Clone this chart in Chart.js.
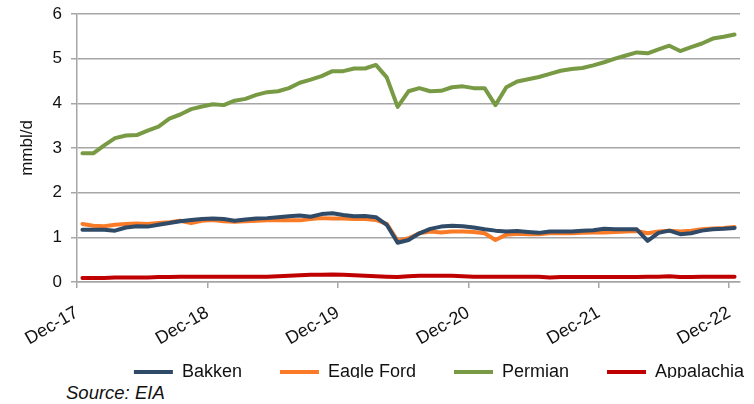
<!DOCTYPE html>
<html>
<head>
<meta charset="utf-8">
<script src="https://cdn.jsdelivr.net/npm/chart.js@4.4.1/dist/chart.umd.min.js"></script>
<style>
  html, body { margin: 0; padding: 0; background: #fff; }
  #wrap { position: relative; width: 754px; height: 404px; overflow: hidden; }
  #clip { position: absolute; left: 0; top: 0; width: 754px; height: 378px; overflow: hidden; }
  #source { position: absolute; left: 66px; top: 382px; font: italic 18.5px "Liberation Sans", Arial, sans-serif; color: #111; }
</style>
</head>
<body>
<div id="wrap">
  <div id="clip"><canvas id="chart" width="754" height="414"></canvas></div>
  <div id="source">Source: EIA</div>
</div>
<script>
// x tick labels, one every 12 months (Dec-17 .. Dec-22)
const tickLabels = ["Dec-17", "Dec-18", "Dec-19", "Dec-20", "Dec-21", "Dec-22"];

// monthly output, mmbl/d, Dec-17 to Dec-22 (61 months)
const bakken = [1.17, 1.17, 1.17, 1.15, 1.22, 1.25, 1.24, 1.28, 1.32, 1.36, 1.39, 1.41, 1.42,
  1.41, 1.37, 1.40, 1.42, 1.43, 1.45, 1.47, 1.49, 1.46, 1.52, 1.54, 1.50, 1.47, 1.48, 1.45,
  1.28, 0.88, 0.94, 1.09, 1.19, 1.24, 1.26, 1.25, 1.22, 1.18, 1.15, 1.13, 1.14, 1.12, 1.10,
  1.13, 1.13, 1.13, 1.15, 1.16, 1.19, 1.18, 1.18, 1.18, 0.92, 1.10, 1.15, 1.07, 1.09, 1.15,
  1.18, 1.19, 1.21];
const eagleFord = [1.30, 1.26, 1.25, 1.28, 1.30, 1.31, 1.30, 1.32, 1.34, 1.37, 1.32, 1.37, 1.39,
  1.36, 1.35, 1.36, 1.37, 1.38, 1.39, 1.38, 1.38, 1.41, 1.43, 1.42, 1.42, 1.41, 1.41, 1.39,
  1.30, 0.92, 0.98, 1.09, 1.13, 1.11, 1.13, 1.13, 1.12, 1.09, 0.94, 1.06, 1.08, 1.07, 1.07,
  1.09, 1.09, 1.09, 1.10, 1.11, 1.11, 1.12, 1.13, 1.14, 1.09, 1.13, 1.15, 1.13, 1.15, 1.18,
  1.20, 1.21, 1.23];
const permian = [2.88, 2.88, 3.06, 3.22, 3.28, 3.29, 3.39, 3.48, 3.66, 3.75, 3.87, 3.93, 3.98,
  3.96, 4.06, 4.10, 4.19, 4.25, 4.27, 4.34, 4.46, 4.53, 4.61, 4.72, 4.72, 4.78, 4.78, 4.86,
  4.58, 3.92, 4.27, 4.34, 4.27, 4.28, 4.36, 4.38, 4.34, 4.34, 3.96, 4.36, 4.49, 4.54, 4.59,
  4.66, 4.73, 4.77, 4.79, 4.85, 4.92, 5.00, 5.07, 5.14, 5.12, 5.21, 5.29, 5.17, 5.26, 5.34,
  5.45, 5.49, 5.54];
const appalachia = [0.09, 0.09, 0.09, 0.10, 0.10, 0.10, 0.10, 0.11, 0.11, 0.12, 0.12, 0.12, 0.12,
  0.12, 0.12, 0.12, 0.12, 0.12, 0.13, 0.14, 0.15, 0.16, 0.16, 0.17, 0.16, 0.15, 0.14, 0.13,
  0.12, 0.11, 0.13, 0.14, 0.14, 0.14, 0.14, 0.13, 0.12, 0.12, 0.12, 0.12, 0.12, 0.12, 0.12,
  0.10, 0.11, 0.11, 0.11, 0.11, 0.11, 0.11, 0.11, 0.11, 0.12, 0.12, 0.13, 0.11, 0.11, 0.12,
  0.12, 0.12, 0.12];

const FONT = "'Liberation Sans', Arial, sans-serif";
const GRID = "#a6a6a6";

// each month sits in the middle of its slot, ticks mark slot edges
const toPoints = arr => arr.map((v, i) => ({ x: i + 0.5, y: v }));

function line(label, data, color) {
  return {
    label, data: toPoints(data), borderColor: color, backgroundColor: color,
    borderWidth: 4, pointRadius: 0, pointStyle: "line", tension: 0,
    borderCapStyle: "round", borderJoinStyle: "round"
  };
}

// legend in the original sits right of centre and tucked up under the dates
const shiftLegend = {
  id: "shiftLegend",
  afterLayout(chart) {
    const lg = chart.legend;
    if (!lg) return;
    lg.left += 64; lg.right += 64;
    lg.top -= 23; lg.bottom -= 23;
  }
};

new Chart(document.getElementById("chart"), {
  type: "line",
  data: {
    datasets: [
      line("Bakken", bakken, "#2f4b68"),
      line("Eagle Ford", eagleFord, "#f97b28"),
      line("Permian", permian, "#789a45"),
      line("Appalachia", appalachia, "#c00000")
    ]
  },
  plugins: [shiftLegend],
  options: {
    responsive: false,
    animation: false,
    layout: { padding: { top: 0, right: 4, left: 0, bottom: 0 } },
    plugins: {
      tooltip: { enabled: false },
      legend: {
        position: "bottom",
        labels: {
          font: { family: FONT, size: 18 }, color: "#111",
          usePointStyle: true, pointStyle: "line", pointStyleWidth: 39,
          boxWidth: 39, boxHeight: 4, padding: 38
        }
      }
    },
    scales: {
      x: {
        type: "linear", min: 0, max: bakken.length,
        afterBuildTicks: s => { s.ticks = tickLabels.map((_, i) => ({ value: i * 12 })); },
        afterFit: s => { s.height = 66; },
        ticks: {
          callback: v => tickLabels[v / 12], autoSkip: false,
          minRotation: 30, maxRotation: 30, padding: 14,
          font: { family: FONT, size: 18 }, color: "#111"
        },
        grid: { drawOnChartArea: false, drawTicks: true, tickLength: 6, color: GRID, lineWidth: 1.5 },
        border: { color: GRID, width: 1.5 }
      },
      y: {
        min: 0, max: 6,
        afterFit: s => { s.width = 77; s.paddingTop = 14; },
        ticks: { stepSize: 1, padding: 9, font: { family: FONT, size: 17 }, color: "#111" },
        grid: { color: GRID, lineWidth: 1.5, tickLength: 6 },
        border: { color: GRID, width: 1.5 },
        title: { display: true, text: "mmbl/d", font: { family: FONT, size: 17 }, color: "#111", padding: { top: 17, bottom: 0 } }
      }
    }
  }
});
</script>
</body>
</html>
